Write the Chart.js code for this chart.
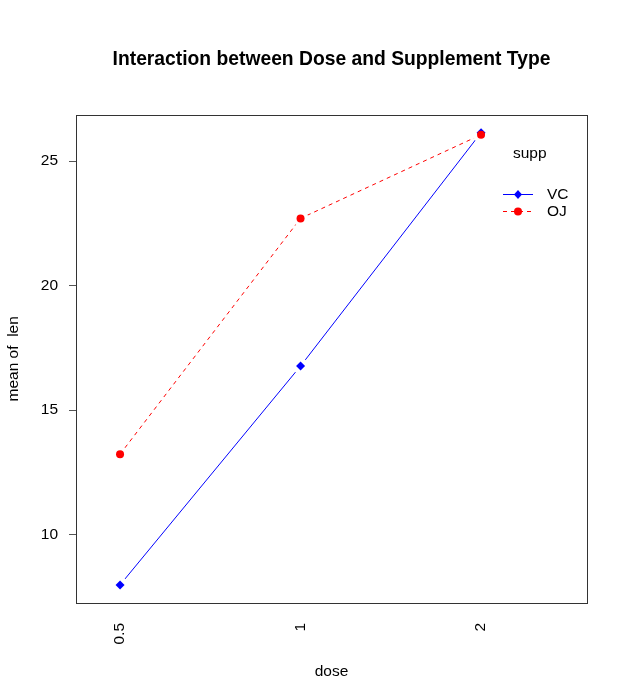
<!DOCTYPE html>
<html>
<head>
<meta charset="utf-8">
<script src="https://cdn.jsdelivr.net/npm/chart.js@4/dist/chart.umd.min.js"></script>
<style>
  html, body { margin: 0; padding: 0; background: #ffffff; }
  #wrap { width: 626px; height: 700px; position: relative; }
</style>
</head>
<body>
<div id="wrap"><canvas id="c" width="626" height="700"></canvas></div>
<script>
// ---- data ----
const doseLabels = ["0.5", "1", "2"];
const doseIndex = [1, 2, 3];
const vcMeans = [7.98, 16.77, 26.14];
const ojMeans = [13.23, 22.70, 26.06];
const yTicks = [10, 15, 20, 25];
const seriesNames = ["VC", "OJ"];
const legendTitle = "supp";

const FONT = "'Liberation Sans', Arial, Helvetica, sans-serif";
const FS = 15.5;
const pts = (vals) => doseIndex.map((x, i) => ({ x: x, y: vals[i] }));

const AREA = { left: 76, right: 587, top: 115, bottom: 603 };
const PAD_LEFT = 37;

const boxPlugin = {
  id: 'boxPlugin',
  afterDraw(chart) {
    const ctx = chart.ctx;
    const a = chart.chartArea;
    ctx.save();
    ctx.strokeStyle = '#333333';
    ctx.lineWidth = 1;
    ctx.strokeRect(Math.round(a.left) + 0.5, Math.round(a.top) + 0.5,
      Math.round(a.right - a.left), Math.round(a.bottom - a.top));
    // legend
    ctx.fillStyle = '#000';
    ctx.font = FS + 'px ' + FONT;
    ctx.textBaseline = 'middle';
    ctx.textAlign = 'left';
    ctx.fillText(legendTitle, 513, 154);
    const items = [
      { name: seriesNames[0], color: '#0000ff', dash: [], y: 194, style: 'diamond' },
      { name: seriesNames[1], color: '#ff0000', dash: [4, 4], y: 211, style: 'circle' }
    ];
    items.forEach(it => {
      ctx.strokeStyle = it.color;
      ctx.lineWidth = 1;
      ctx.setLineDash(it.dash);
      ctx.beginPath();
      ctx.moveTo(503, it.y + 0.5);
      ctx.lineTo(533, it.y + 0.5);
      ctx.stroke();
      ctx.setLineDash([]);
      ctx.fillStyle = it.color;
      ctx.beginPath();
      if (it.style === 'circle') {
        ctx.arc(518, it.y + 0.5, 4, 0, Math.PI * 2);
      } else {
        ctx.moveTo(518, it.y - 4);
        ctx.lineTo(522, it.y + 0.5);
        ctx.lineTo(518, it.y + 5);
        ctx.lineTo(514, it.y + 0.5);
        ctx.closePath();
      }
      ctx.fill();
      ctx.fillStyle = '#000';
      ctx.fillText(it.name, 547, it.y + 1);
    });
    ctx.restore();
  }
};

new Chart(document.getElementById('c'), {
  type: 'line',
  data: {
    datasets: [
      { label: 'VC line', data: pts(vcMeans), borderColor: '#0000ff', borderWidth: 1,
        pointRadius: 0, fill: false, tension: 0, order: 5 },
      { label: 'OJ line', data: pts(ojMeans), borderColor: '#ff0000', borderWidth: 1,
        borderDash: [4, 4], pointRadius: 0, fill: false, tension: 0, order: 4 },
      { label: 'VC gap', data: pts(vcMeans), showLine: false, pointRadius: 8,
        pointBackgroundColor: '#ffffff', pointBorderWidth: 0, pointBorderColor: '#ffffff', order: 3 },
      { label: 'OJ gap', data: pts(ojMeans), showLine: false, pointRadius: 8,
        pointBackgroundColor: '#ffffff', pointBorderWidth: 0, pointBorderColor: '#ffffff', order: 3 },
      { label: 'VC', data: pts(vcMeans), showLine: false, pointStyle: 'rectRot', pointRadius: 4.5,
        pointBackgroundColor: '#0000ff', pointBorderColor: '#0000ff', pointBorderWidth: 0, order: 2 },
      { label: 'OJ', data: pts(ojMeans), showLine: false, pointStyle: 'circle', pointRadius: 4,
        pointBackgroundColor: '#ff0000', pointBorderColor: '#ff0000', pointBorderWidth: 0, order: 1 }
    ]
  },
  options: {
    responsive: false,
    animation: false,
    events: [],
    layout: { padding: { left: PAD_LEFT, right: 0, top: 0, bottom: 0 } },
    plugins: {
      legend: { display: false },
      tooltip: { enabled: false },
      title: {
        display: true,
        text: 'Interaction between Dose and Supplement Type',
        color: '#000',
        font: { family: FONT, size: 19.3, weight: 'bold' },
        padding: { top: 48.5, bottom: 43 }
      }
    },
    scales: {
      x: {
        type: 'linear',
        min: 0.756,
        max: 3.587,
        afterFit(scale) { scale.height = 700 - AREA.bottom; },
        afterBuildTicks(scale) { scale.ticks = doseIndex.map(v => ({ value: v })); },
        grid: { display: false, drawTicks: false },
        border: { display: false },
        ticks: {
          autoSkip: false,
          minRotation: 90, maxRotation: 90,
          padding: 20,
          color: '#000',
          font: { family: FONT, size: FS },
          callback: (v) => { const i = doseIndex.indexOf(v); return i >= 0 ? doseLabels[i] : ''; }
        },
        title: {
          display: true, text: 'dose', color: '#000',
          font: { family: FONT, size: FS },
          padding: { top: 0, bottom: 19 }
        }
      },
      y: {
        type: 'linear',
        position: 'left',
        min: 7.2536,
        max: 26.866,
        afterFit(scale) { scale.width = AREA.left - PAD_LEFT; },
        afterBuildTicks(scale) { scale.ticks = yTicks.map(v => ({ value: v })); },
        grid: { display: true, drawOnChartArea: false, drawTicks: true, tickLength: 7, tickColor: '#555555' },
        border: { display: false },
        ticks: {
          padding: 11,
          color: '#000',
          font: { family: FONT, size: FS }
        },
        title: {
          display: true, text: 'mean of  len', color: '#000',
          font: { family: FONT, size: FS },
          padding: { top: -33, bottom: 0 }
        }
      },
      yRight: {
        type: 'linear',
        position: 'right',
        display: true,
        min: 7.2536,
        max: 26.866,
        afterFit(scale) { scale.width = 626 - AREA.right; },
        grid: { display: false, drawTicks: false },
        border: { display: false },
        ticks: { display: false }
      }
    }
  },
  plugins: [boxPlugin]
});
</script>
</body>
</html>
